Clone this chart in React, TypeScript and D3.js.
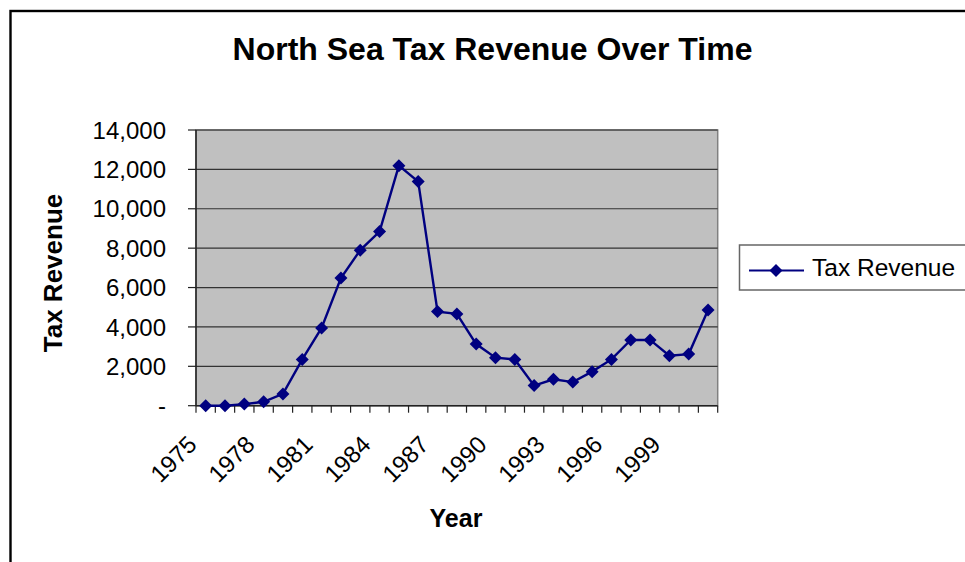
import React from "react";
import * as d3 from "d3";

const years: string[] = [
  "1975","1976","1977","1978","1979","1980","1981","1982","1983","1984",
  "1985","1986","1987","1988","1989","1990","1991","1992","1993","1994",
  "1995","1996","1997","1998","1999","2000","2001",
];
const taxRevenue: number[] = [
  0, 0, 80, 200, 600, 2350, 3950, 6480, 7900, 8840,
  12190, 11380, 4780, 4660, 3130, 2440, 2350, 1020, 1340, 1200,
  1730, 2350, 3340, 3340, 2540, 2620, 4860,
];
const yTicks: number[] = [0, 2000, 4000, 6000, 8000, 10000, 12000, 14000];
const xLabelYears: string[] = ["1975","1978","1981","1984","1987","1990","1993","1996","1999"];

const title = "North Sea Tax Revenue Over Time";
const seriesName = "Tax Revenue";
const xTitle = "Year";
const yTitle = "Tax Revenue";

export default function App() {
  const W = 965, H = 562;
  const L = 196, R = 717.7, T = 130, B = 405.7;
  const x = d3.scaleBand<string>().domain(years).range([L, R]).paddingInner(0).paddingOuter(0);
  const y = d3.scaleLinear().domain([0, 14000]).range([B, T]);
  const cx = (yr: string) => (x(yr) as number) + x.bandwidth() / 2;
  const line = d3.line<number>().x((_, i) => cx(years[i])).y((v) => y(v));
  const fmt = (v: number) => (v === 0 ? "-" : d3.format(",")(v));
  const diamond = (px: number, py: number, r = 6.5) =>
    `M${px},${py - r}L${px + r},${py}L${px},${py + r}L${px - r},${py}Z`;
  const font = "Arial, 'Liberation Sans', sans-serif";
  const bounds = years.map((yr) => x(yr) as number).concat([R]);

  return (
    <svg width={W} height={H} style={{ position: "absolute", left: 0, top: 0 }} fontFamily={font}>
      <rect x={0} y={0} width={W} height={H} fill="#fff" />
      <rect x={10.5} y={11} width={1100} height={700} fill="none" stroke="#000" strokeWidth={2.4} />
      <text x={492.5} y={60} textAnchor="middle" fontSize={32} fontWeight="bold">{title}</text>

      <rect x={L} y={T} width={R - L} height={B - T} fill="#C0C0C0" stroke="#808080" strokeWidth={1.5} />
      {yTicks.slice(1).map((t) => (
        <line key={"g" + t} x1={L} x2={R} y1={y(t)} y2={y(t)} stroke="#333" strokeWidth={1.2} />
      ))}
      <line x1={L} x2={L} y1={T} y2={B} stroke="#222" strokeWidth={1.5} />
      <line x1={L} x2={R} y1={B} y2={B} stroke="#222" strokeWidth={1.5} />
      {yTicks.map((t) => (
        <g key={"yt" + t}>
          <line x1={L - 8} x2={L} y1={y(t)} y2={y(t)} stroke="#222" strokeWidth={1.2} />
          <text x={166} y={y(t)} dy="0.36em" textAnchor="end" fontSize={24}>{fmt(t)}</text>
        </g>
      ))}
      {bounds.map((b, i) => (
        <line key={"xt" + i} x1={b} x2={b} y1={B} y2={B + 7} stroke="#222" strokeWidth={1.2} />
      ))}
      {xLabelYears.map((yr) => (
        <text key={"xl" + yr} transform={`translate(${cx(yr) - 13.5},${440}) rotate(-45)`} textAnchor="end" dy="0.36em" fontSize={24}>{yr}</text>
      ))}

      <path d={line(taxRevenue) || ""} fill="none" stroke="#000080" strokeWidth={2.4} />
      {taxRevenue.map((v, i) => (
        <path key={"m" + i} d={diamond(cx(years[i]), y(v))} fill="#000080" />
      ))}

      <text x={456} y={527} textAnchor="middle" fontSize={25} fontWeight="bold">{xTitle}</text>
      <text transform={`translate(62,273) rotate(-90)`} textAnchor="middle" fontSize={26} fontWeight="bold">{yTitle}</text>

      <rect x={739.5} y={245} width={240} height={45} fill="#fff" stroke="#666" strokeWidth={1.5} />
      <line x1={749} x2={804} y1={270.5} y2={270.5} stroke="#000080" strokeWidth={2} />
      <path d={diamond(776, 270.5, 6.5)} fill="#000080" />
      <text x={812} y={276} fontSize={24.5}>{seriesName}</text>
    </svg>
  );
}
